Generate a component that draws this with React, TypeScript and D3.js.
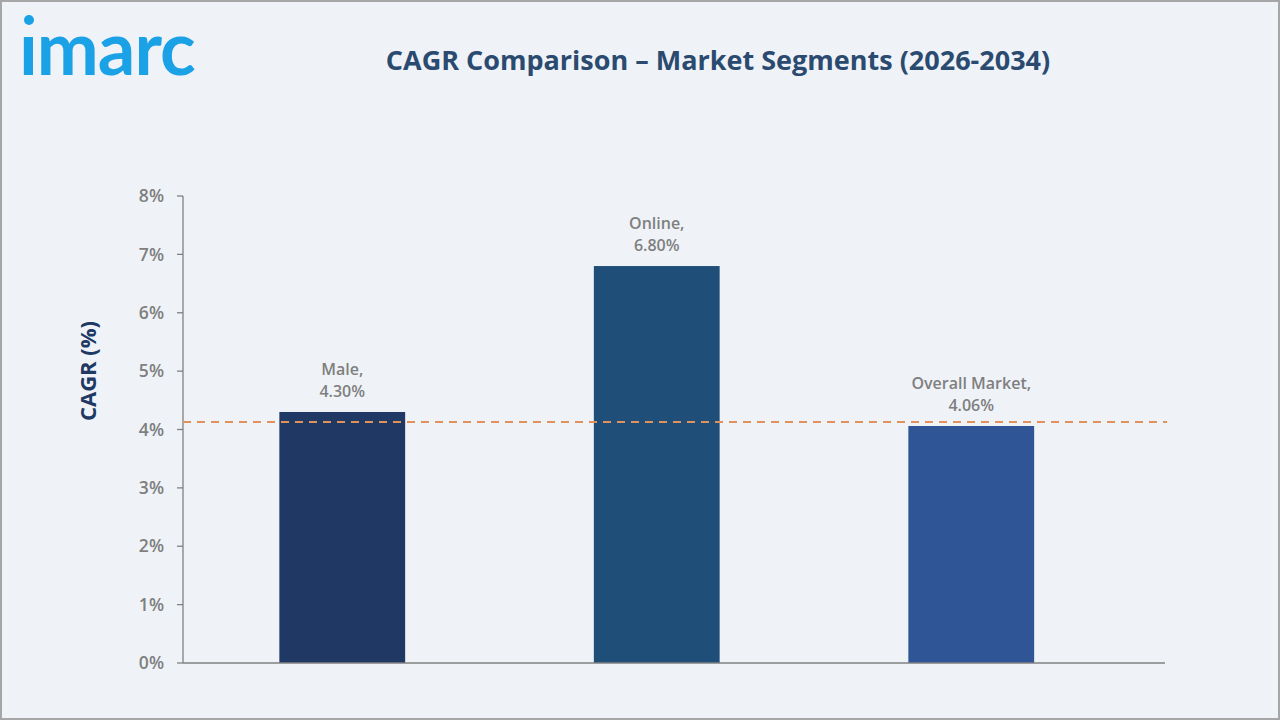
import React from "react";
import * as d3 from "d3";

// segment CAGR values, 2026-2034
const categories = ["Male", "Online", "Overall Market"];
const cagrValues = [4.3, 6.8, 4.06];
const barColors = ["#203864", "#1f4e79", "#2f5597"];
const yTicks = [0, 1, 2, 3, 4, 5, 6, 7, 8];
const dashedLineValue = 4.13;

const W = 1280;
const H = 720;

function App() {
  const plotLeft = 183;
  const plotRight = 1165;
  const y = d3.scaleLinear().domain([0, 8]).range([663, 196]);
  const x = d3
    .scaleBand<string>()
    .domain(categories)
    .range([185, 1128.5])
    .paddingInner(0.6)
    .paddingOuter(0.3);

  const font = "'Open Sans', 'DejaVu Sans', sans-serif";

  return (
    <svg width={W} height={H} style={{ position: "absolute", left: 0, top: 0 }}>
      <rect x={1} y={1} width={W - 2} height={H - 2} fill="#eff3f8" stroke="#a6a6a6" strokeWidth={2} />

      {/* logo */}
      <circle cx={29} cy={20} r={5} fill="#1ba1e6" />
      <text
        x={19}
        y={75}
        fontFamily="'Lato', 'Noto Sans', sans-serif"
        fontWeight={700}
        fontSize={74}
        letterSpacing={-1}
        fill="#1ba1e6"
      >
        ımarc
      </text>

      <text
        x={718}
        y={70}
        textAnchor="middle"
        fontFamily={font}
        fontWeight={700}
        fontSize={27}
        fill="#2b4a70"
      >
        CAGR Comparison – Market Segments (2026-2034)
      </text>

      <text
        transform={`translate(96,371) rotate(-90)`}
        textAnchor="middle"
        fontFamily={font}
        fontWeight={700}
        fontSize={22}
        fill="#203864"
      >
        CAGR (%)
      </text>

      {/* y axis */}
      <line x1={plotLeft} x2={plotLeft} y1={y(8)} y2={y(0)} stroke="#808080" strokeWidth={1.3} />
      {yTicks.map((t) => (
        <g key={t}>
          <line x1={177} x2={plotLeft} y1={y(t)} y2={y(t)} stroke="#808080" strokeWidth={1.3} />
          <text
            x={164}
            y={y(t)}
            dy="0.35em"
            textAnchor="end"
            fontFamily={font}
            fontWeight={600}
            fontSize={17.5}
            fill="#7f7f7f"
          >
            {t}%
          </text>
        </g>
      ))}

      {/* bars */}
      {categories.map((c, i) => {
        const bx = x(c)!;
        const top = y(cagrValues[i]);
        const cx = bx + x.bandwidth() / 2;
        return (
          <g key={c}>
            <rect x={bx} y={top} width={x.bandwidth()} height={y(0) - top} fill={barColors[i]} />
            <text textAnchor="middle" fontFamily={font} fontWeight={600} fontSize={16} fill="#7f7f7f">
              <tspan x={cx} y={top - 37}>
                {c},
              </tspan>
              <tspan x={cx} y={top - 15}>
                {cagrValues[i].toFixed(2)}%
              </tspan>
            </text>
          </g>
        );
      })}

      {/* x axis */}
      <line x1={plotLeft} x2={plotRight} y1={y(0)} y2={y(0)} stroke="#808080" strokeWidth={1.3} />

      <line
        x1={plotLeft}
        x2={1167}
        y1={y(dashedLineValue)}
        y2={y(dashedLineValue)}
        stroke="#e0925a"
        strokeWidth={2}
        strokeDasharray="8 6"
      />
    </svg>
  );
}

export default App;
